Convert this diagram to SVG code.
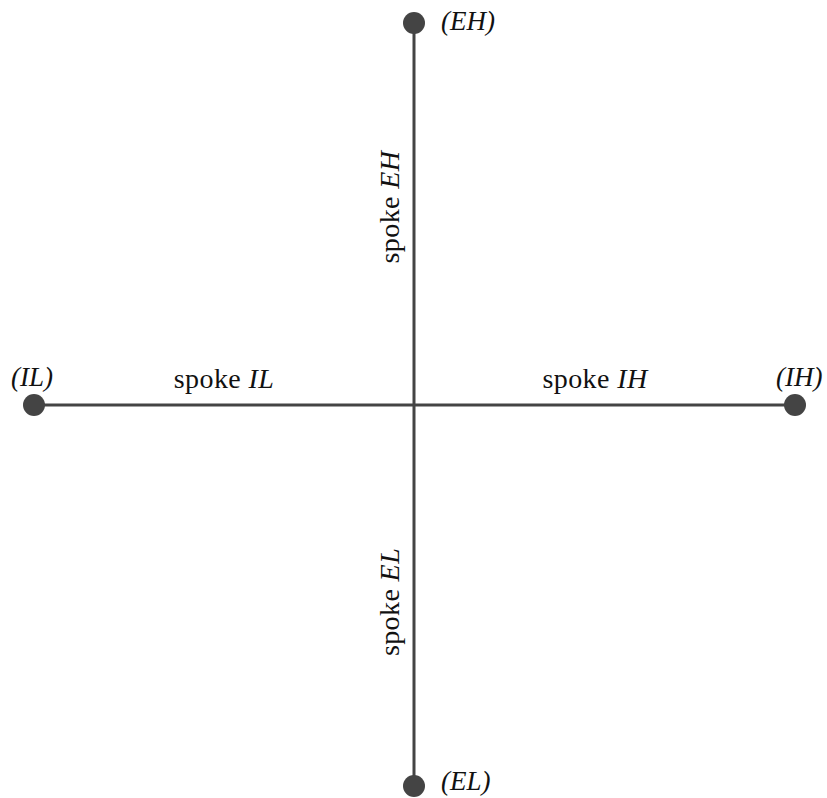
<svg xmlns="http://www.w3.org/2000/svg" width="827" height="798" viewBox="0 0 827 798">
<style>
.ln{stroke:#444;stroke-width:3;fill:none}
.dot{fill:#444}
text{font-family:"Liberation Serif","Times New Roman",serif;font-size:27px;fill:#111}
.it{font-style:italic}
.sp{font-size:28px;letter-spacing:0.4px}
</style>
<rect width="827" height="798" fill="#fff"/>
<g id="connectors">
<line class="ln" x1="414" y1="23" x2="414" y2="786"/>
<line class="ln" x1="34" y1="405" x2="795" y2="405"/>
</g>
<g id="EH"><circle class="dot" cx="414" cy="23" r="11"/><text x="441" y="30" class="it">(EH)</text></g>
<g id="EL"><circle class="dot" cx="414" cy="786" r="11"/><text x="441" y="790" class="it">(EL)</text></g>
<g id="IL"><circle class="dot" cx="34" cy="405" r="11"/><text x="11" y="386" class="it">(IL)</text></g>
<g id="IH"><circle class="dot" cx="795" cy="405" r="11"/><text x="776" y="386" class="it">(IH)</text></g>
<g id="labels">
<text x="224" y="388" text-anchor="middle" class="sp">spoke <tspan class="it">IL</tspan></text>
<text x="595" y="388" text-anchor="middle" class="sp">spoke <tspan class="it">IH</tspan></text>
<text transform="translate(399,207) rotate(-90)" text-anchor="middle" class="sp">spoke <tspan class="it">EH</tspan></text>
<text transform="translate(399,602) rotate(-90)" text-anchor="middle" class="sp">spoke <tspan class="it">EL</tspan></text>
</g>
</svg>
